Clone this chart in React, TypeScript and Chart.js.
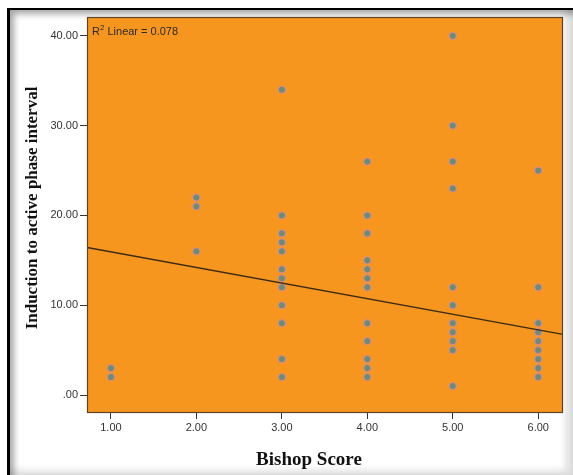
import React, { useEffect, useRef } from "react";
import { Chart, registerables } from "chart.js";

Chart.register(...registerables);

// Bishop score categories and induction-to-active-phase intervals
const score1 = [3, 2];
const score2 = [22, 21, 16];
const score3 = [34, 20, 18, 17, 16, 14, 13, 12, 10, 8, 4, 2];
const score4 = [26, 20, 18, 15, 14, 13, 12, 8, 6, 4, 3, 2];
const score5 = [40, 30, 26, 23, 12, 10, 8, 7, 6, 5, 1];
const score6 = [25, 12, 8, 7, 6, 5, 4, 3, 2];
const scoreLevels = [1, 2, 3, 4, 5, 6];
const intervalGroups = [score1, score2, score3, score4, score5, score6];

// Fit line (R² Linear = 0.078) endpoints across the axis range
const fitX = [0.72, 6.29];
const fitY = [16.43, 6.76];

const xTicks = [1, 2, 3, 4, 5, 6];
const yTicks = [0, 10, 20, 30, 40];
const xRange = [0.72, 6.29];
const yRange = [-2, 42.1];

const xTitle = "Bishop Score";
const yTitle = "Induction to active phase interval";
const r2Label = "0.078";

export default function App() {
  const ref = useRef<HTMLCanvasElement | null>(null);

  useEffect(() => {
    document.body.style.margin = "0";
    const canvas = ref.current;
    if (!canvas) return;

    const points: { x: number; y: number }[] = [];
    scoreLevels.forEach((s, i) => {
      intervalGroups[i].forEach((v) => points.push({ x: s, y: v }));
    });

    const decor = {
      id: "decor",
      beforeDatasetsDraw(chart: any) {
        const { ctx, chartArea: a } = chart;
        ctx.save();
        ctx.fillStyle = "#F6961F";
        ctx.fillRect(a.left, a.top, a.right - a.left, a.bottom - a.top);
        ctx.restore();
      },
      afterDraw(chart: any) {
        const { ctx, chartArea: a } = chart;
        ctx.save();
        ctx.strokeStyle = "#5e4224";
        ctx.lineWidth = 1.2;
        ctx.strokeRect(a.left + 0.5, a.top + 0.5, a.right - a.left - 1, a.bottom - a.top - 1);

        // R² label
        ctx.fillStyle = "#2a2a2a";
        ctx.textBaseline = "alphabetic";
        ctx.textAlign = "left";
        ctx.font = "11px 'Liberation Sans', Arial, sans-serif";
        const x0 = a.left + 5;
        const y0 = a.top + 18;
        ctx.fillText("R", x0, y0);
        const rw = ctx.measureText("R").width;
        ctx.font = "8px 'Liberation Sans', Arial, sans-serif";
        ctx.fillText("2", x0 + rw, y0 - 5);
        const sw = ctx.measureText("2").width;
        ctx.font = "11px 'Liberation Sans', Arial, sans-serif";
        ctx.fillText(" Linear = " + r2Label, x0 + rw + sw, y0);

        // axis titles
        ctx.fillStyle = "#111";
        ctx.font = "bold 19px 'Liberation Serif', 'Times New Roman', serif";
        ctx.textAlign = "center";
        ctx.textBaseline = "middle";
        ctx.fillText(xTitle, 309, 460);

        ctx.save();
        ctx.translate(33, 208);
        ctx.rotate(-Math.PI / 2);
        ctx.font = "bold 17px 'Liberation Serif', 'Times New Roman', serif";
        ctx.fillText(yTitle, 0, 0);
        ctx.restore();
        ctx.restore();
      },
    };

    const tickFont = { size: 11, family: "'Liberation Sans', Arial, sans-serif" };

    const chart = new Chart(canvas, {
      type: "scatter",
      data: {
        datasets: [
          {
            type: "line",
            label: "fit",
            data: fitX.map((x, i) => ({ x, y: fitY[i] })),
            borderColor: "#3b2a18",
            borderWidth: 1.3,
            pointRadius: 0,
            fill: false,
          } as any,
          {
            label: "points",
            data: points,
            pointRadius: 3.6,
            backgroundColor: "#6a8c78",
            borderColor: "#d98c9c",
            borderWidth: 1,
          },
        ],
      },
      plugins: [decor],
      options: {
        animation: false,
        responsive: false,
        devicePixelRatio: 1,
        layout: { padding: { left: 0, top: 17, right: 10, bottom: 0 } },
        plugins: { legend: { display: false }, tooltip: { enabled: false } },
        scales: {
          x: {
            type: "linear",
            min: xRange[0],
            max: xRange[1],
            afterBuildTicks: (s: any) => {
              s.ticks = xTicks.map((v) => ({ value: v }));
            },
            afterFit: (s: any) => {
              s.height = 62;
            },
            ticks: {
              callback: (v: any) => Number(v).toFixed(2),
              font: tickFont,
              color: "#333",
              autoSkip: false,
              maxRotation: 0,
              padding: 2,
            },
            grid: {
              drawOnChartArea: false,
              drawTicks: true,
              tickLength: 6,
              tickColor: "#333",
            },
            border: { display: false },
          },
          y: {
            type: "linear",
            min: yRange[0],
            max: yRange[1],
            afterBuildTicks: (s: any) => {
              s.ticks = yTicks.map((v) => ({ value: v }));
            },
            afterFit: (s: any) => {
              s.width = 87;
            },
            ticks: {
              callback: (v: any) => (Number(v) === 0 ? ".00" : Number(v).toFixed(2)),
              font: tickFont,
              color: "#333",
              autoSkip: false,
              padding: 2,
            },
            grid: {
              drawOnChartArea: false,
              drawTicks: true,
              tickLength: 7,
              tickColor: "#333",
            },
            border: { display: false },
          },
        },
      },
    } as any);

    return () => chart.destroy();
  }, []);

  return (
    <div style={{ position: "relative", width: 573, height: 475, background: "#fff", overflow: "hidden" }}>
      <div
        style={{
          position: "absolute",
          left: 7,
          top: 8,
          width: 573 - 7,
          height: 475 - 8,
          borderTop: "2px solid #000",
          borderLeft: "3px solid #000",
          boxSizing: "border-box",
          boxShadow: "inset 4px 4px 6px rgba(0,0,0,0.35), inset -8px -5px 6px rgba(0,0,0,0.12)",
        }}
      />
      <canvas
        ref={ref}
        width={573}
        height={475}
        style={{ position: "absolute", left: 0, top: 0, width: 573, height: 475 }}
      />
    </div>
  );
}
